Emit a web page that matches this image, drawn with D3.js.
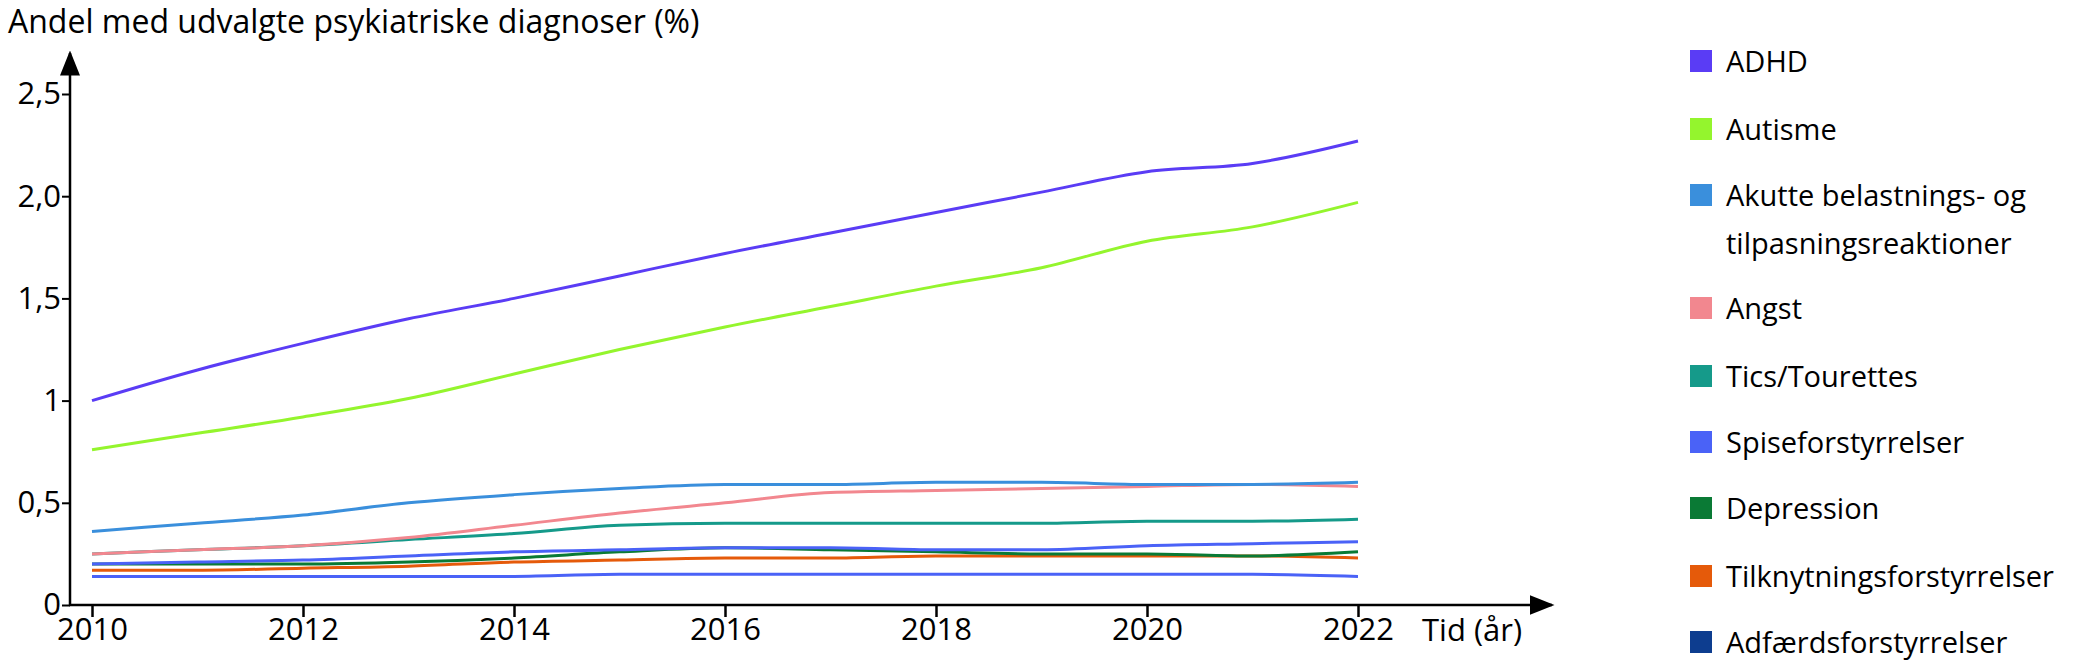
<!DOCTYPE html>
<html><head><meta charset="utf-8">
<script src="https://cdn.jsdelivr.net/npm/d3@7"></script>
<style>body{margin:0;background:#fff}text{font-family:"Liberation Sans Narrow","Open Sans",sans-serif}</style>
</head><body><div id="viz"></div>
<script>
const width = 2079, height = 664;
const margin = {top: 53, right: 520, bottom: 59, left: 70};
const years = d3.range(2010, 2023);

// Values (%)
const series = [
  {name: 'ADHD', color: '#5a3cf5', values: [1.00,1.15,1.28,1.40,1.50,1.61,1.72,1.82,1.92,2.02,2.12,2.16,2.27]},
  {name: 'Autisme', color: '#94f52d', values: [0.76,0.84,0.92,1.01,1.13,1.25,1.36,1.46,1.56,1.65,1.78,1.85,1.97]},
  {name: ['Akutte belastnings- og', 'tilpasningsreaktioner'], color: '#3a8fdc', values: [0.36,0.40,0.44,0.50,0.54,0.57,0.59,0.59,0.60,0.60,0.59,0.59,0.60]},
  {name: 'Angst', color: '#f2878f', values: [0.25,0.27,0.29,0.33,0.39,0.45,0.50,0.55,0.56,0.57,0.58,0.59,0.58]},
  {name: 'Tics/Tourettes', color: '#159a8a', values: [0.25,0.27,0.29,0.32,0.35,0.39,0.40,0.40,0.40,0.40,0.41,0.41,0.42]},
  {name: 'Spiseforstyrrelser', color: '#4a62f7', values: [0.20,0.21,0.22,0.24,0.26,0.27,0.28,0.28,0.27,0.27,0.29,0.30,0.31]},
  {name: 'Depression', color: '#0a7a35', values: [0.20,0.20,0.20,0.21,0.23,0.26,0.28,0.27,0.26,0.25,0.25,0.24,0.26]},
  {name: 'Tilknytningsforstyrrelser', color: '#e55a0a', values: [0.17,0.17,0.18,0.19,0.21,0.22,0.23,0.23,0.24,0.24,0.24,0.24,0.23]},
  {name: 'Adfærdsforstyrrelser', color: '#0d3d8f', line: '#4a62f7', values: [0.14,0.14,0.14,0.14,0.14,0.15,0.15,0.15,0.15,0.15,0.15,0.15,0.14]}
];

const svg = d3.select('#viz').append('svg')
  .attr('width', width).attr('height', height);

const xScale = d3.scaleLinear().domain([2010, 2022]).range([92, 1358]);
const yScale = d3.scaleLinear().domain([0, 2.5]).range([height - margin.bottom, 94]);

svg.append('defs').append('marker')
  .attr('id', 'arr').attr('viewBox', '0 0 10 10').attr('refX', 9).attr('refY', 5)
  .attr('markerWidth', 10).attr('markerHeight', 10).attr('orient', 'auto-start-reverse')
  .append('path').attr('d', 'M0,1 L10,5 L0,9 z').attr('fill', '#000');

const fmt = d => d === 0 ? '0' : d === 1 ? '1' : d3.format('.1f')(d).replace('.', ',');

// Y axis
const yAxis = svg.append('g').attr('transform', `translate(${margin.left},0)`)
  .call(d3.axisLeft(yScale).tickValues([0,0.5,1,1.5,2,2.5]).tickFormat(fmt).tickSize(8).tickSizeOuter(0));
yAxis.select('.domain').remove();
yAxis.selectAll('text').attr('font-size', 31).attr('fill', '#000').attr('dx', 2);
yAxis.selectAll('line').attr('stroke-width', 2);
svg.append('line').attr('x1', margin.left).attr('x2', margin.left)
  .attr('y1', height - margin.bottom + 1).attr('y2', margin.top)
  .attr('stroke', '#000').attr('stroke-width', 2.5).attr('marker-end', 'url(#arr)');

// X axis
const xAxis = svg.append('g').attr('transform', `translate(0,${height - margin.bottom})`)
  .call(d3.axisBottom(xScale).tickValues(d3.range(2010, 2023, 2)).tickFormat(d3.format('d')).tickSize(12).tickSizeOuter(0));
xAxis.select('.domain').remove();
xAxis.selectAll('text').attr('font-size', 31).attr('fill', '#000').attr('dy', '0.75em').attr('y', 12);
xAxis.selectAll('line').attr('stroke-width', 2.5);
svg.append('line').attr('x1', margin.left - 1).attr('x2', 1552)
  .attr('y1', height - margin.bottom).attr('y2', height - margin.bottom)
  .attr('stroke', '#000').attr('stroke-width', 2.5).attr('marker-end', 'url(#arr)');

svg.append('text').attr('x', 1422).attr('y', 641).attr('font-size', 31).text('Tid (år)');
svg.append('text').attr('x', 8).attr('y', 33).attr('font-size', 32).text('Andel med udvalgte psykiatriske diagnoser (%)');

// Lines
const line = d3.line().x((d, i) => xScale(years[i])).y(d => yScale(d)).curve(d3.curveMonotoneX);
svg.selectAll('.series').data(series.slice().reverse()).join('path')
  .attr('class', 'series')
  .attr('d', d => line(d.values))
  .attr('fill', 'none')
  .attr('stroke', d => d.line || d.color)
  .attr('stroke-width', 3);

// Legend
const legY = [62, 130, 196, 309, 377, 443, 509, 577, 643];
const leg = svg.selectAll('.leg').data(series).join('g')
  .attr('class', 'leg').attr('transform', (d, i) => `translate(1690,${legY[i]})`);
leg.append('rect').attr('x', 0).attr('y', -12).attr('width', 22).attr('height', 22).attr('fill', d => d.color);
leg.append('text').attr('x', 36).attr('y', 10).attr('font-size', 29)
  .each(function(d) {
    const names = Array.isArray(d.name) ? d.name : [d.name];
    d3.select(this).selectAll('tspan').data(names).join('tspan')
      .attr('x', 36).attr('dy', (n, i) => i ? 48 : 0).text(n => n);
  });
</script></body></html>
